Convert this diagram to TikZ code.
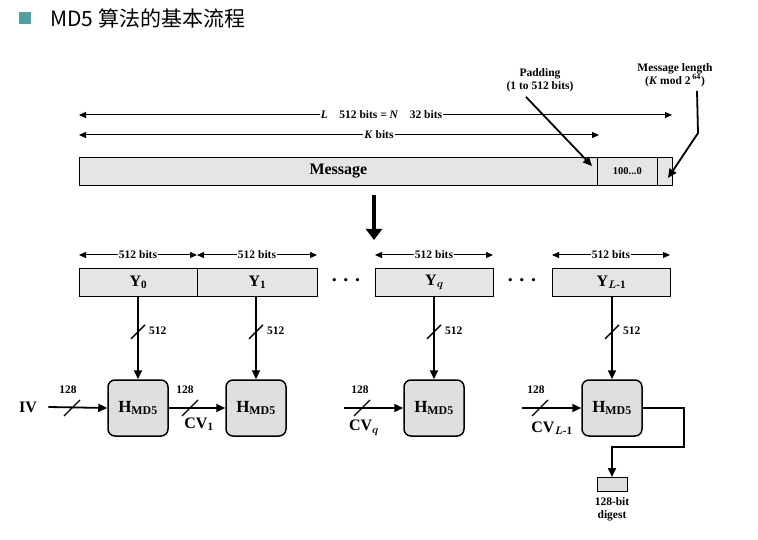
\documentclass[tikz,border=0pt]{standalone}
\usepackage{amsmath}
\usepackage{fontspec}
\setmainfont{Liberation Serif}
\newfontfamily\cjk{Noto Sans CJK SC}
\usetikzlibrary{arrows.meta,calc}
\definecolor{tl}{RGB}{80,160,160}
\begin{document}
\begin{tikzpicture}[x=1pt,y=-1pt,
  lbl/.style={font=\bfseries\fontsize{11.5}{13}\selectfont,inner sep=1pt},
  blk/.style={draw,fill=gray!20,line width=0.8pt,minimum height=28pt,inner sep=0pt,font=\bfseries\fontsize{16}{17}\selectfont},
  hbox/.style={draw,fill=gray!25,rounded corners=7pt,line width=1.5pt,minimum width=60pt,minimum height=56pt,font=\bfseries\fontsize{17}{18}\selectfont},
  dim/.style={{Triangle[length=7pt,width=6pt]}-{Triangle[length=7pt,width=6pt]},line width=1pt},
  ar/.style={-{Triangle[length=9pt,width=8pt]},line width=1.8pt},
  sl/.style={line width=1.4pt}]
\useasboundingbox (0,0) rectangle (758,540);
\fill[tl] (19,12) rectangle (31,24);
\node[anchor=west,font=\cjk\fontsize{21}{23}\selectfont,inner sep=0] (title) at (50,18) {MD5 算法的基本流程};
% top dims
\coordinate (L1) at (79,115); \coordinate (L2) at (672,115);
\draw[dim] (L1) -- (L2) node[midway,lbl,fill=white,xshift=6pt] (Llab) {\textit{L}\quad 512 bits = \textit{N}\quad 32 bits};
\coordinate (K1) at (79,135); \coordinate (K2) at (599,135);
\draw[dim] (K1) -- (K2) node[midway,lbl,fill=white,xshift=40pt] (Klab) {\textit{K} bits};
% message bar
\node[blk,minimum width=518pt,anchor=north west] (msg) at (79,157) {Message};
\node[blk,minimum width=60pt,anchor=north west,font=\bfseries\fontsize{10.5}{11}\selectfont] (pad) at (597,157) {100...0};
\node[blk,minimum width=15pt,anchor=north west] (len) at (657,157) {};
\node[lbl,align=center] (padl) at (540,80) {Padding\\(1 to 512 bits)};
\node[lbl,align=center] (lenl) at (675,75) {Message length\\(\textit{K} mod 2\,$^{\mathbf{64}}$)};
\draw[ar] ($(padl.south)+(-14,4)$) -- (592,166);
\draw[ar] ($(lenl.south)+(22,3)$) -- (698,133) -- (668,178);
% big arrow
\coordinate (ba1) at (374,195); \coordinate (ba2) at (374,240);
\draw[-{Triangle[length=11pt,width=16pt]},line width=4pt] (ba1) -- (ba2);
% blocks
\foreach \n/\x/\w/\t in {y0/79/118/{Y$_{\mathbf 0}$},y1/197/120/{Y$_{\mathbf 1}$},yq/375/118/{Y$_{\boldsymbol q}$},yl/552/118/{Y$_{\boldsymbol L\mathbf{\text{-}1}}$}}{
  \node[blk,minimum width=\w pt,anchor=north west] (\n) at (\x,268) {\t};
  \coordinate (\n a) at (\x,255); \coordinate (\n b) at (\x+\w,255);
  \draw[dim] (\n a) -- (\n b) node[midway,lbl,fill=white] {512 bits};
}
\node[font=\bfseries\fontsize{20}{20}\selectfont] (d1) at (346,280) {.\,\,.\,\,.};
\node[font=\bfseries\fontsize{20}{20}\selectfont] (d2) at (522,280) {.\,\,.\,\,.};
% H boxes
\node[hbox] (h1) at (138,408) {H$_{\mathbf{MD5}}$};
\node[hbox] (h2) at (256,408) {H$_{\mathbf{MD5}}$};
\node[hbox] (h3) at (434,408) {H$_{\mathbf{MD5}}$};
\node[hbox] (h4) at (612,408) {H$_{\mathbf{MD5}}$};
\foreach \a/\b in {y0/h1,y1/h2,yq/h3,yl/h4}{
  \draw[ar] (\a.south -| \b.north) -- (\b.north);
  \draw[sl] ($(\a.south -| \b.north)+(-7,42)$) -- ++(14,-14);
  \node[lbl,anchor=west] at ($(\a.south -| \b.north)+(10,34)$) {512};
}
\node[font=\bfseries\fontsize{16}{17}\selectfont] (iv) at (28,407) {IV};
\coordinate (c3) at (344,408); \coordinate (c4) at (522,408);
\draw[ar] ($(iv.east)+(8,0)$) -- (h1.west);
\draw[ar] (h1.east) -- (h2.west);
\draw[ar] (c3) -- (h3.west);
\draw[ar] (c4) -- (h4.west);
\foreach \x in {72,190,362,540}{
  \draw[sl] (\x-8,416) -- (\x+8,400);
}
\node[lbl] at (68,390) {128};
\node[lbl] at (185,390) {128};
\node[lbl] at (360,390) {128};
\node[lbl] at (536,390) {128};
\node[font=\bfseries\fontsize{16}{17}\selectfont] at (199,424) {CV$_{\mathbf 1}$};
\node[font=\bfseries\fontsize{16}{17}\selectfont] at (364,428) {CV$_{\boldsymbol q}$};
\node[font=\bfseries\fontsize{16}{17}\selectfont] at (552,428) {CV$_{\boldsymbol L\mathbf{\text{-}1}}$};
% output
\node[draw,fill=gray!25,minimum width=30pt,minimum height=14pt,inner sep=0,anchor=north,line width=0.8pt] (dg) at (612,477) {};
\draw[ar] (h4.east) -- (684,408) -- (684,447) -- (612,447) -- (dg.north);
\node[lbl,align=center,anchor=north] (dgl) at (612,496) {128-bit\\digest};
\end{tikzpicture}
\end{document}
